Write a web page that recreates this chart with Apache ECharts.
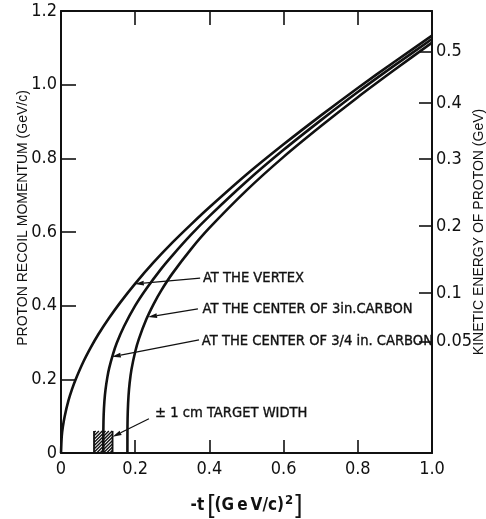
<!DOCTYPE html>
<html>
<head>
<meta charset="utf-8">
<script src="https://cdn.jsdelivr.net/npm/echarts@6/dist/echarts.min.js"></script>
<style>
  html, body { margin: 0; padding: 0; background: #fff; }
  #chart { width: 486px; height: 519px; }
</style>
</head>
<body>
<div id="chart"></div>
<script>
// -t in (GeV/c)^2 and proton recoil momentum in GeV/c for each curve
const vertexT = [0, 0.002, 0.005, 0.01, 0.02, 0.03, 0.04, 0.06, 0.08, 0.10, 0.13, 0.16, 0.20, 0.25, 0.30, 0.35, 0.40, 0.50, 0.60, 0.70, 0.80, 0.90, 1.00];
const vertexP = [0, 0.045, 0.071, 0.100, 0.142, 0.174, 0.201, 0.247, 0.286, 0.321, 0.367, 0.409, 0.460, 0.518, 0.571, 0.620, 0.667, 0.756, 0.838, 0.916, 0.991, 1.063, 1.133];

const carbon34T = [0.114, 0.1142, 0.115, 0.117, 0.120, 0.125, 0.130, 0.140, 0.150, 0.170, 0.200, 0.230, 0.270, 0.300, 0.350, 0.400, 0.500, 0.600, 0.700, 0.800, 0.900, 1.000];
const carbon34P = [0, 0.065, 0.103, 0.141, 0.172, 0.206, 0.231, 0.268, 0.298, 0.344, 0.400, 0.446, 0.500, 0.536, 0.592, 0.643, 0.737, 0.823, 0.903, 0.980, 1.053, 1.124];

const carbon3T = [0.179, 0.1792, 0.180, 0.182, 0.185, 0.190, 0.200, 0.210, 0.230, 0.250, 0.270, 0.300, 0.350, 0.400, 0.500, 0.600, 0.700, 0.800, 0.900, 1.000];
const carbon3P = [0, 0.071, 0.113, 0.155, 0.190, 0.227, 0.275, 0.310, 0.363, 0.405, 0.441, 0.487, 0.553, 0.611, 0.713, 0.804, 0.887, 0.966, 1.041, 1.114];

// Kinetic energy scale (GeV) on the right, placed at the matching momentum
const energyLabels = ['0.05', '0.1', '0.2', '0.3', '0.4', '0.5'];
const energyAtMomentum = [0.302, 0.434, 0.616, 0.798, 0.950, 1.090];

// Left/bottom axis ranges
const momentumTicks = [0, 0.2, 0.4, 0.6, 0.8, 1.0, 1.2];
const tTicks = [0, 0.2, 0.4, 0.6, 0.8, 1.0];

// Callouts: text, text anchor (left-middle), arrow tail, arrow tip
const noteText = ['AT THE VERTEX', 'AT THE CENTER OF 3in.CARBON', 'AT THE CENTER OF 3/4 in. CARBON', '\u00b1 1 cm TARGET WIDTH'];
const noteAnchor = [[0.380, 0.474], [0.379, 0.391], [0.377, 0.304], [0.251, 0.109]];
const noteTail = [[0.375, 0.475], [0.369, 0.391], [0.372, 0.307], [0.237, 0.093]];
const noteTip = [[0.199, 0.459], [0.2345, 0.369], [0.137, 0.261], [0.139, 0.044]];

// Target width band: t range and height
const targetBand = [[0.089, 0, 0.139, 0.060]];

const INK = '#111';
const NARROW = "'Liberation Sans Narrow', 'Arial Narrow', 'DejaVu Sans Condensed', 'Liberation Sans', sans-serif";
const SANS = "'Liberation Sans', Arial, sans-serif";

const pairs = (xs, ys) => xs.map((x, i) => [x, ys[i]]);
const fmt = v => (Math.abs(v) < 1e-9 ? '0' : v.toFixed(1));

const chart = echarts.init(document.getElementById('chart'), null, { renderer: 'canvas' });

const curveStyle = { color: INK, width: 2.6 };

function lineSeries(name, data) {
  return {
    name, type: 'line', data,
    showSymbol: false, smooth: 0.25,
    lineStyle: curveStyle, itemStyle: { color: INK },
    silent: true, z: 3
  };
}

function renderNote(params, api) {
  const i = params.dataIndex;
  const anchor = api.coord([api.value(0), api.value(1)]);
  const a = api.coord(noteTail[i]);
  const b = api.coord(noteTip[i]);
  const dx = b[0] - a[0], dy = b[1] - a[1];
  const L = Math.hypot(dx, dy);
  const ux = dx / L, uy = dy / L;
  const hl = 9, hw = 2.4;
  const base = [b[0] - ux * hl, b[1] - uy * hl];
  return {
    type: 'group',
    children: [
      { type: 'line', shape: { x1: a[0], y1: a[1], x2: base[0], y2: base[1] },
        style: { stroke: INK, lineWidth: 1.3 } },
      { type: 'polygon', shape: { points: [b, [base[0] - uy * hw, base[1] + ux * hw], [base[0] + uy * hw, base[1] - ux * hw]] },
        style: { fill: INK } },
      { type: 'text', x: anchor[0] + 1, y: anchor[1],
        style: { text: noteText[i], fill: INK, fontSize: 14.6, fontFamily: NARROW, align: 'left', verticalAlign: 'middle',
                 stroke: INK, lineWidth: 0.35 } }
    ]
  };
}

function renderBand(params, api) {
  const p0 = api.coord([api.value(0), api.value(1)]);
  const p1 = api.coord([api.value(2), api.value(3)]);
  const xl = Math.min(p0[0], p1[0]), xr = Math.max(p0[0], p1[0]);
  const yt = Math.min(p0[1], p1[1]), yb = Math.max(p0[1], p1[1]);
  const children = [];
  const step = 3.3;
  // diagonal hatching rising to the right: x + y = c
  for (let c = xl + yt + step / 2; c < xr + yb; c += step) {
    const xa = Math.max(xl, c - yb);
    const xb = Math.min(xr, c - yt);
    if (xb > xa) {
      children.push({ type: 'line', shape: { x1: xa, y1: c - xa, x2: xb, y2: c - xb },
        style: { stroke: INK, lineWidth: 1.4 } });
    }
  }
  children.push({ type: 'line', shape: { x1: xl, y1: yb, x2: xl, y2: yt }, style: { stroke: INK, lineWidth: 1.8 } });
  children.push({ type: 'line', shape: { x1: xr, y1: yb, x2: xr, y2: yt }, style: { stroke: INK, lineWidth: 1.8 } });
  return { type: 'group', children };
}

const axisLine = { show: true, onZero: false, lineStyle: { color: INK, width: 2 } };
const tickStyle = { color: INK, width: 1.6 };

chart.setOption({
  animation: false,
  backgroundColor: '#fff',
  grid: { left: 61, right: 54, top: 11, bottom: 66, containLabel: false, outerBoundsMode: 'none' },
  xAxis: [
    {
      type: 'value', position: 'bottom', min: tTicks[0], max: tTicks[tTicks.length - 1], interval: 0.2,
      axisLine, axisTick: { inside: true, length: 13, lineStyle: tickStyle },
      axisLabel: { margin: 7, color: INK, fontSize: 18, fontFamily: NARROW, formatter: fmt },
      splitLine: { show: false },
      name: '-t\u2009{b|[}(G\u2009e\u2009V/c){s|2}{b|]}', nameLocation: 'middle', nameGap: 40, nameMoveOverlap: false,
      nameTextStyle: {
        color: INK, fontSize: 17, fontFamily: NARROW, fontWeight: 'bold',
        rich: {
          b: { fontSize: 26, fontFamily: SANS, color: INK, fontWeight: 'normal' },
          s: { fontSize: 13, fontFamily: NARROW, color: INK, fontWeight: 'bold', verticalAlign: 'top', padding: [1, 2, 0, 1] }
        }
      }
    },
    {
      type: 'value', position: 'top', min: tTicks[0], max: tTicks[tTicks.length - 1], interval: 0.2,
      axisLine, axisTick: { inside: true, length: 14, lineStyle: tickStyle },
      axisLabel: { show: false }, splitLine: { show: false }
    }
  ],
  yAxis: [
    {
      type: 'value', position: 'left', min: momentumTicks[0], max: momentumTicks[momentumTicks.length - 1], interval: 0.2,
      axisLine, axisTick: { inside: true, length: 15, lineStyle: tickStyle },
      axisLabel: { margin: 4, color: INK, fontSize: 18, fontFamily: NARROW, formatter: fmt },
      splitLine: { show: false },
      name: 'PROTON RECOIL MOMENTUM (GeV/c)', nameLocation: 'middle', nameRotate: 90, nameGap: 31, nameMoveOverlap: false,
      nameTextStyle: { color: INK, fontSize: 14, fontFamily: SANS, padding: [0, 0, 0, 28] }
    },
    {
      type: 'value', position: 'right', min: momentumTicks[0], max: momentumTicks[momentumTicks.length - 1],
      axisLine,
      axisTick: { inside: true, length: 13, lineStyle: tickStyle, customValues: energyAtMomentum },
      axisLabel: {
        margin: 4, color: INK, fontSize: 18, fontFamily: NARROW, customValues: energyAtMomentum,
        formatter: v => {
          let best = 0;
          energyAtMomentum.forEach((m, k) => { if (Math.abs(m - v) < Math.abs(energyAtMomentum[best] - v)) best = k; });
          return energyLabels[best];
        }
      },
      splitLine: { show: false },
      name: 'KINETIC ENERGY OF PROTON (GeV)', nameLocation: 'middle', nameRotate: 90, nameGap: 40, nameMoveOverlap: false,
      nameTextStyle: { color: INK, fontSize: 14, fontFamily: SANS }
    }
  ],
  series: [
    lineSeries('vertex', pairs(vertexT, vertexP)),
    lineSeries('carbon 3/4 in', pairs(carbon34T, carbon34P)),
    lineSeries('carbon 3 in', pairs(carbon3T, carbon3P)),
    {
      name: 'target width', type: 'custom', renderItem: renderBand, data: targetBand,
      encode: { x: [0, 2], y: [1, 3] }, silent: true, clip: false, z: 2
    },
    {
      name: 'notes', type: 'custom', renderItem: renderNote, data: noteAnchor,
      encode: { x: 0, y: 1 }, silent: true, clip: false, z: 4
    }
  ]
});
</script>
</body>
</html>
